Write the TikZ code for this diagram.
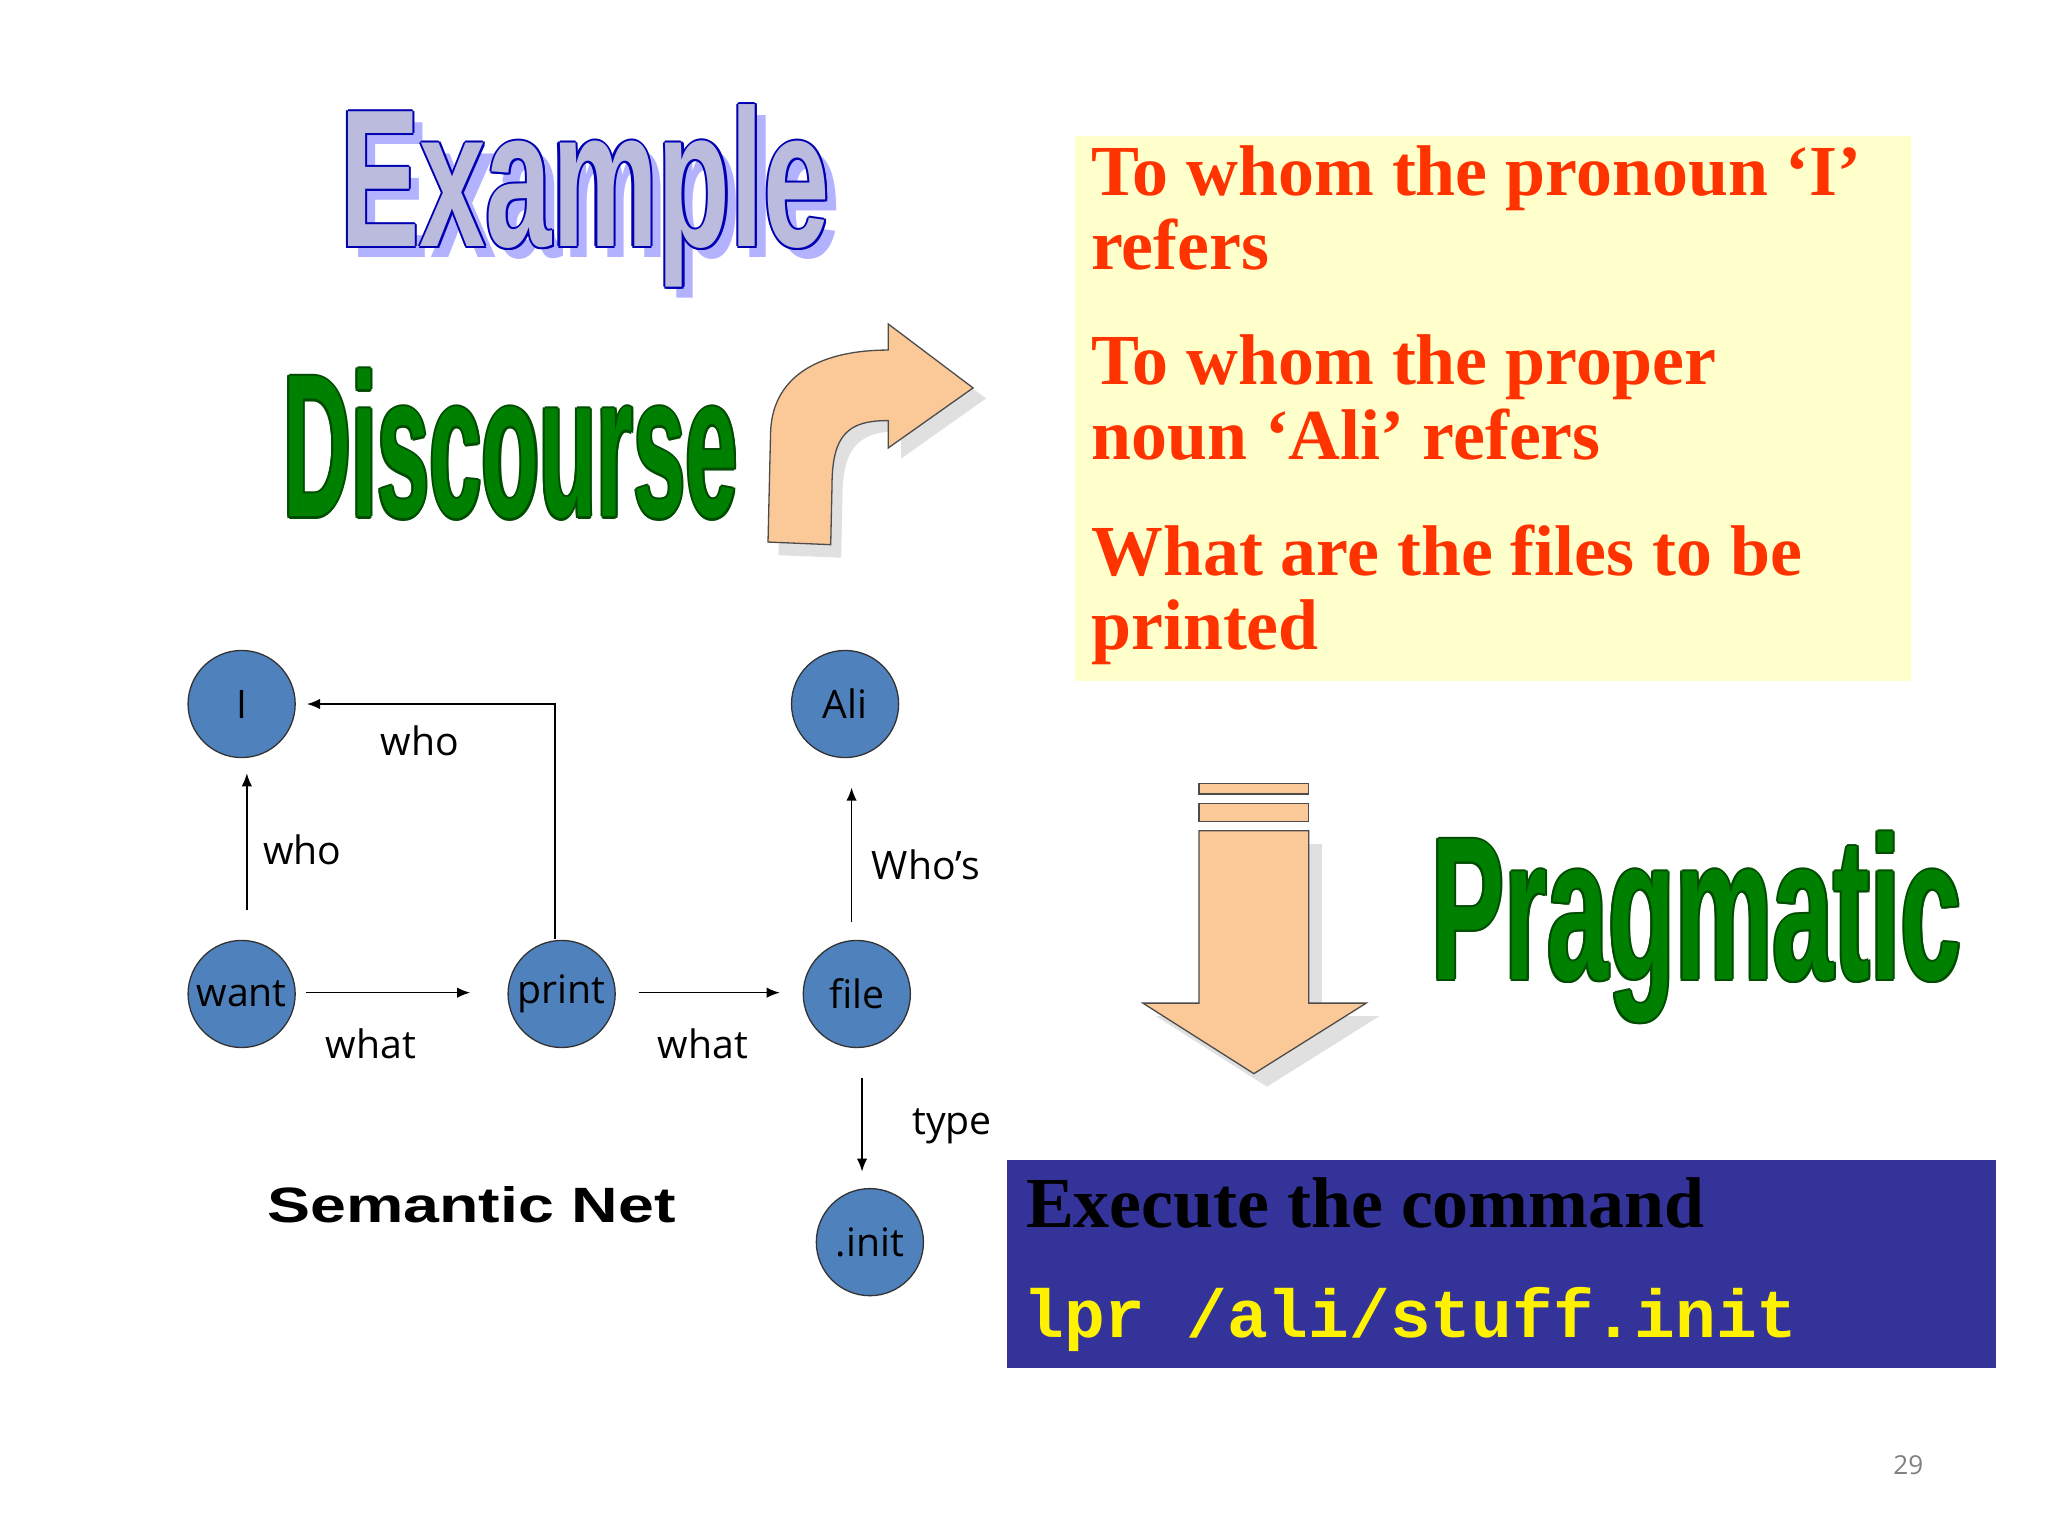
\documentclass[tikz,border=0pt]{standalone}
\usepackage{fontspec}
\setmainfont{Liberation Serif}
\newfontfamily\graphfont{Open Sans}
\newfontfamily\headfont{Liberation Sans}
\newfontfamily\codefont{Liberation Mono}
\usetikzlibrary{arrows.meta,calc}
\definecolor{nodeblue}{HTML}{4F81BD}
\definecolor{orangetxt}{HTML}{FF3300}
\definecolor{pale}{HTML}{FFFFCC}
\definecolor{boxblue}{HTML}{333399}
\definecolor{peach}{HTML}{FBC898}
\definecolor{wgreen}{HTML}{008000}
\definecolor{lav}{HTML}{BBBBDD}
\newcommand{\outlinedword}[6]{% pos, xscale, yscale, fill, stroke, text
  \foreach \dx/\dy in {-1.6/0,1.6/0,0/-1.6,0/1.6,-1.1/-1.1,1.1/1.1,-1.1/1.1,1.1/-1.1}{
    \node[wordart,xscale=#2,yscale=#3,text=#5] at ($#1+(\dx,\dy)$) {#6};}
  \node[wordart,xscale=#2,yscale=#3,text=#4] at #1 {#6};}
\begin{document}
\begin{tikzpicture}[x=1pt,y=-1pt,
  circ/.style={circle,draw=black!80,line width=1pt,fill=nodeblue,minimum size=82pt,inner sep=0pt,font=\graphfont\fontsize{30}{30}\selectfont},
  lbl/.style={font=\graphfont\fontsize{30}{30}\selectfont,anchor=west},
  edge/.style={-{Latex[length=10pt,width=8pt]},line width=1.2pt},
  wordart/.style={font=\headfont\bfseries\fontsize{120}{120}\selectfont},
  prag/.style={font=\bfseries\fontsize{55}{57}\selectfont,text=orangetxt,anchor=north west,align=left}]
\useasboundingbox (0,0) rectangle (1568,1176);
\fill[white] (0,0) rectangle (1568,1176);
% boxes
\fill[pale] (823,104) rectangle (1463,521);
\fill[boxblue] (771,888) rectangle (1528,1047);
\node[prag] (t1) at (832,108) {To whom the pronoun ‘I’\\refers};
\node[prag] (t2) at (832,253) {To whom the proper\\noun ‘Ali’ refers};
\node[prag] (t3) at (832,398) {What are the files to be\\printed};
\node[anchor=west,font=\bfseries\fontsize{55}{55}\selectfont,text=black] (ex) at (782,921) {Execute the command};
\node[anchor=west,font=\codefont\bfseries\fontsize{52}{52}\selectfont,text=yellow] (cmd) at (780,1010) {lpr /ali/stuff.init};
% word art
\outlinedword{(456,158)}{0.76}{1.25}{blue!30}{white}{Example}
\outlinedword{(448,150)}{0.76}{1.25}{lav}{blue!70!black}{Example}
\outlinedword{(391,340)}{0.6}{1.3}{wgreen}{black!70!green}{Discourse}
\outlinedword{(1299,710)}{0.7}{1.3}{wgreen}{black!70!green}{Pragmatic}
% curved arrow
\fill[black!12] (596,425) -- (598,340) .. controls (600,295) and (640,278) .. (690,278) -- (690,258) -- (755,305) -- (690,351) -- (690,330) .. controls (660,330) and (645,340) .. (645,380) -- (644,427) -- cycle;
\draw[fill=peach,line width=1pt,draw=black!70] (588,415) -- (590,330) .. controls (592,285) and (632,268) .. (680,268) -- (680,248) -- (745,297) -- (680,343) -- (680,322) .. controls (650,322) and (637,332) .. (637,372) -- (636,417) -- cycle;
% down arrow
\fill[black!12] (928,646) rectangle (1012,778);
\fill[black!12] (885,778) -- (1056,778) -- (970,832) -- cycle;
\draw[fill=peach,line width=1pt,draw=black!70] (918,600) rectangle (1002,608);
\draw[fill=peach,line width=1pt,draw=black!70] (918,615) rectangle (1002,629);
\draw[fill=peach,line width=1pt,draw=black!70] (918,636) -- (1002,636) -- (1002,768) -- (1046,768) -- (960,822) -- (875,768) -- (918,768) -- cycle;
% semantic net
\node[circ] (I) at (185,539) {I};
\node[circ] (want) at (185,761) {want};
\node[circ] (print) at (430,761) {print};
\node[circ] (file) at (656,761) {file};
\node[circ] (Ali) at (647,539) {Ali};
\node[circ] (init) at (666,951) {.init};
\coordinate (a1) at (189,697); \coordinate (a2) at (189,592);
\coordinate (b1) at (425,719); \coordinate (b2) at (235,539);
\coordinate (c1) at (234,760); \coordinate (c2) at (360,760);
\coordinate (d1) at (489,760); \coordinate (d2) at (597,760);
\coordinate (e1) at (652,706); \coordinate (e2) at (652,603);
\coordinate (f1) at (660,825); \coordinate (f2) at (660,897);
\draw[edge] (a1) -- (a2);
\draw[edge] (b1) |- (b2);
\draw[edge] (c1) -- (c2);
\draw[edge] (d1) -- (d2);
\draw[edge] (e1) -- (e2);
\draw[edge] (f1) -- (f2);
\node[lbl] (l1) at (288,567) {who};
\node[lbl] (l2) at (198,651) {who};
\node[lbl] (l3) at (246,799) {what};
\node[lbl] (l4) at (500,799) {what};
\node[lbl] (l5) at (664,662) {Who’s};
\node[lbl] (l6) at (695,862) {type};
\node[font=\headfont\bfseries\fontsize{38}{38}\selectfont,xscale=1.3] (sn) at (361,922) {Semantic Net};
\node[font=\graphfont\fontsize{20}{20}\selectfont,text=black!50] (pg) at (1461,1122) {29};
\end{tikzpicture}
\end{document}
